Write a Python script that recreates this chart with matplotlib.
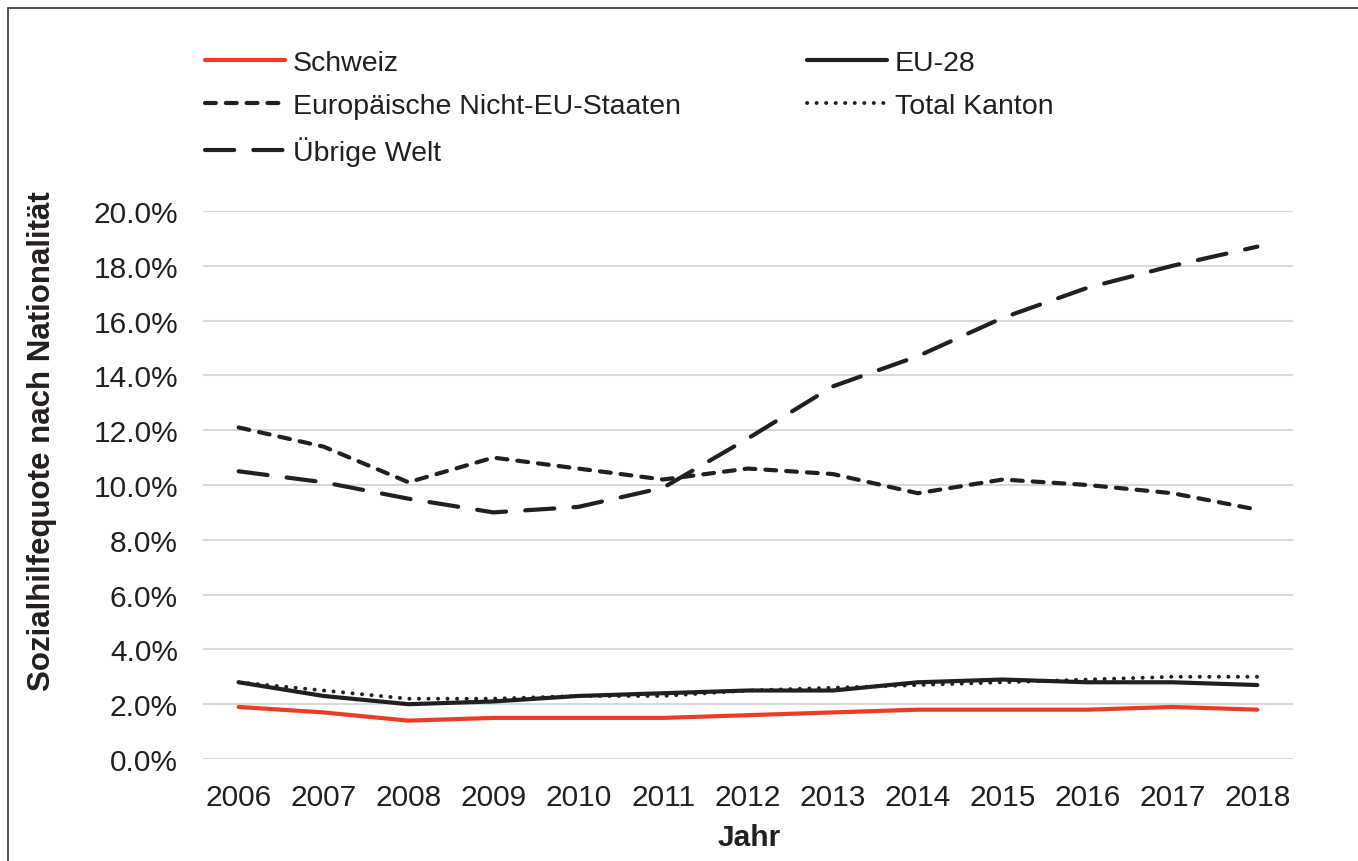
import matplotlib
matplotlib.use("Agg")
import matplotlib.pyplot as plt
from matplotlib.ticker import FuncFormatter
from matplotlib.patches import Rectangle

plt.rcParams['font.family'] = ['Liberation Sans', 'DejaVu Sans']

years = [2006, 2007, 2008, 2009, 2010, 2011, 2012, 2013, 2014, 2015, 2016, 2017, 2018]
schweiz = [1.9, 1.7, 1.4, 1.5, 1.5, 1.5, 1.6, 1.7, 1.8, 1.8, 1.8, 1.9, 1.8]
eu28 = [2.8, 2.3, 2.0, 2.1, 2.3, 2.4, 2.5, 2.5, 2.8, 2.9, 2.8, 2.8, 2.7]
nicht_eu = [12.1, 11.4, 10.1, 11.0, 10.6, 10.2, 10.6, 10.4, 9.7, 10.2, 10.0, 9.7, 9.1]
total_kanton = [2.8, 2.5, 2.2, 2.2, 2.3, 2.3, 2.5, 2.6, 2.7, 2.8, 2.9, 3.0, 3.0]
uebrige_welt = [10.5, 10.1, 9.5, 9.0, 9.2, 9.9, 11.7, 13.6, 14.7, 16.1, 17.2, 18.0, 18.7]
y_ticks = [0, 2, 4, 6, 8, 10, 12, 14, 16, 18, 20]

fig = plt.figure(figsize=(13.58, 8.62), dpi=100)
fig.patches.append(Rectangle((8/1358, -0.1), 1.2, 1 - 9/862 + 0.1, transform=fig.transFigure,
                             fill=False, edgecolor='#333333', linewidth=1.2))
ax = fig.add_axes([203/1358, 1 - 760/862, (1293 - 203)/1358, (760 - 212)/862])

x = list(range(len(years)))
lw = 3.0
l_ch, = ax.plot(x, schweiz, color='#EE3B24', lw=lw, solid_capstyle='round', zorder=5)
l_eu, = ax.plot(x, eu28, color='#231F20', lw=lw, solid_capstyle='round', zorder=4)
l_ne, = ax.plot(x, nicht_eu, color='#231F20', lw=lw, dashes=(2.6, 2.4), dash_capstyle='round', zorder=4)
l_tk, = ax.plot(x, total_kanton, color='#231F20', lw=2.8, dashes=(0.05, 2.4), dash_capstyle='round', zorder=3)
l_uw, = ax.plot(x, uebrige_welt, color='#231F20', lw=lw, dashes=(7.0, 4.6), dash_capstyle='round', zorder=4)

ax.set_xlim(-0.42, len(years) - 0.58)
ax.set_ylim(0, 20)
ax.set_yticks(y_ticks)
ax.yaxis.set_major_formatter(FuncFormatter(lambda v, p: f"{v:.1f}%"))
ax.set_xticks(x)
ax.set_xticklabels([str(y) for y in years])
ax.grid(axis='y', color='#D9D9D9', lw=1.5)
ax.set_axisbelow(True)
for s in ax.spines.values():
    s.set_visible(False)
ax.tick_params(axis='both', length=0, labelsize=21.5, colors='#231F20')
ax.tick_params(axis='y', pad=18)
ax.tick_params(axis='x', pad=17)

fig.text(42/1358, 1 - 441/862, 'Sozialhilfequote nach Nationalität', rotation=90,
         ha='center', va='center', fontsize=22.5, fontweight='bold', color='#231F20')
fig.text(749/1358, 1 - 838/862, 'Jahr', ha='center', va='center', fontsize=21.5,
         fontweight='bold', color='#231F20')

handles = [l_ch, l_ne, l_uw, l_eu, l_tk]
labels = ['Schweiz', 'Europäische Nicht-EU-Staaten', 'Übrige Welt', 'EU-28', 'Total Kanton']
leg = fig.legend(handles, labels, ncol=2, loc='upper left', bbox_to_anchor=(205/1358, 1 - 51/862),
                 frameon=False, fontsize=20.5, handlelength=2.8, handletextpad=0.28,
                 columnspacing=4.45, labelspacing=0.6, borderaxespad=0, borderpad=0)
for t in leg.get_texts():
    t.set_color('#231F20')

fig.savefig('out.png', dpi=100)
